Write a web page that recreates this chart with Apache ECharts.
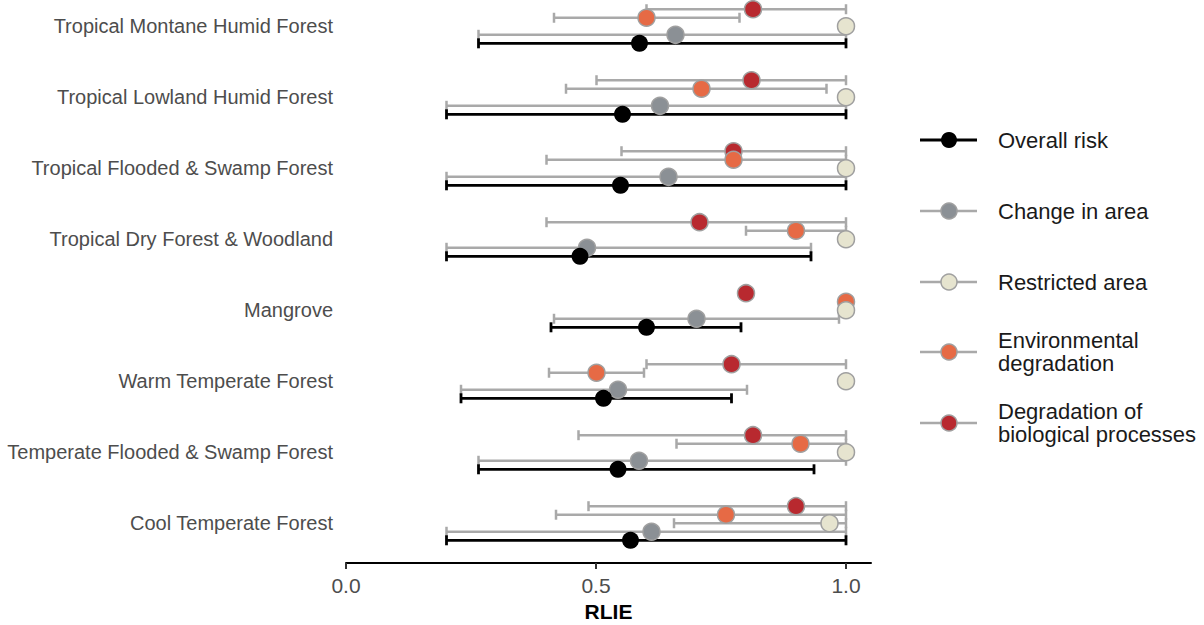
<!DOCTYPE html>
<html>
<head>
<meta charset="utf-8">
<script src="https://cdn.jsdelivr.net/npm/echarts@6/dist/echarts.min.js"></script>
<style>
html,body{margin:0;padding:0;background:#fff;}
#chart{width:1204px;height:625px;}
</style>
</head>
<body>
<div id="chart"></div>
<script>
// ---- Data ----
const categories = [
  "Tropical Montane Humid Forest",
  "Tropical Lowland Humid Forest",
  "Tropical Flooded & Swamp Forest",
  "Tropical Dry Forest & Woodland",
  "Mangrove",
  "Warm Temperate Forest",
  "Temperate Flooded & Swamp Forest",
  "Cool Temperate Forest"
];
const xTicks = [0, 0.5, 1.0];

const overall   = [0.587, 0.553, 0.549, 0.468, 0.601, 0.515, 0.544, 0.569];
const overallLo = [0.265, 0.201, 0.201, 0.201, 0.410, 0.230, 0.265, 0.201];
const overallHi = [1.000, 1.000, 1.000, 0.930, 0.790, 0.771, 0.936, 1.000];

const change    = [0.659, 0.628, 0.645, 0.482, 0.701, 0.544, 0.586, 0.611];
const changeLo  = [0.265, 0.201, 0.201, 0.201, 0.416, 0.230, 0.265, 0.201];
const changeHi  = [1.000, 1.000, 1.000, 0.930, 0.986, 0.802, 1.000, 1.000];

const restricted   = [1.000, 1.000, 1.000, 1.000, 1.000, 1.000, 1.000, 0.967];
const restrictedLo = [null, null, null, null, null, null, null, 0.656];
const restrictedHi = [null, null, null, null, null, null, null, 1.000];

const envDeg   = [0.601, 0.711, 0.775, 0.900, 1.000, 0.501, 0.909, 0.760];
const envDegLo = [0.416, 0.440, 0.401, 0.800, null, 0.406, 0.661, 0.420];
const envDegHi = [0.787, 0.961, 1.000, 1.000, null, 0.596, 1.000, 1.000];

const bioDeg   = [0.814, 0.811, 0.775, 0.707, 0.800, 0.771, 0.814, 0.900];
const bioDegLo = [0.601, 0.501, 0.551, 0.401, null, 0.601, 0.465, 0.485];
const bioDegHi = [1.000, 1.000, 1.000, 1.000, null, 1.000, 1.000, 1.000];

// ---- Series definitions (drawing order: back to front) ----
const seriesDefs = [
  {name: "Degradation of\nbiological processes", v: bioDeg, lo: bioDegLo, hi: bioDegHi, dodge: -0.24, fill: "#b8292f", bar: "#a9a9a9", bw: 2.5, border: true},
  {name: "Environmental\ndegradation", v: envDeg, lo: envDegLo, hi: envDegHi, dodge: -0.12, fill: "#e66a45", bar: "#a9a9a9", bw: 2.5, border: true},
  {name: "Restricted area", v: restricted, lo: restrictedLo, hi: restrictedHi, dodge: 0, fill: "#e6e4cf", bar: "#a9a9a9", bw: 2.5, border: true},
  {name: "Change in area", v: change, lo: changeLo, hi: changeHi, dodge: 0.12, fill: "#8b9095", bar: "#a9a9a9", bw: 2.5, border: true},
  {name: "Overall risk", v: overall, lo: overallLo, hi: overallHi, dodge: 0.24, fill: "#000000", bar: "#000000", bw: 2.8, border: false}
];
const legendOrder = [4, 3, 2, 1, 0];

const series = [];
// error bars first
seriesDefs.forEach((d, si) => {
  const data = [];
  d.v.forEach((_, i) => {
    if (d.lo[i] != null && d.hi[i] != null) data.push([d.lo[i], d.hi[i], i + d.dodge]);
  });
  series.push({
    type: 'custom',
    name: d.name + ' bars',
    z: 2 + si,
    silent: true,
    clip: false,
    encode: {x: [0, 1], y: 2},
    data: data,
    renderItem: function (params, api) {
      const p0 = api.coord([api.value(0), api.value(2)]);
      const p1 = api.coord([api.value(1), api.value(2)]);
      const cap = 5;
      const st = {stroke: d.bar, lineWidth: d.bw};
      return {
        type: 'group',
        children: [
          {type: 'line', shape: {x1: p0[0], y1: p0[1], x2: p1[0], y2: p1[1]}, style: st},
          {type: 'line', shape: {x1: p0[0], y1: p0[1] - cap, x2: p0[0], y2: p0[1] + cap}, style: st},
          {type: 'line', shape: {x1: p1[0], y1: p1[1] - cap, x2: p1[0], y2: p1[1] + cap}, style: st}
        ]
      };
    }
  });
});
// points
seriesDefs.forEach((d, si) => {
  series.push({
    type: 'scatter',
    name: d.name,
    z: 10 + si,
    symbol: 'circle',
    symbolSize: 17,
    silent: true,
    clip: false,
    itemStyle: d.border ? {color: d.fill, borderColor: '#a0a0a0', borderWidth: 1.5, opacity: 1}
                        : {color: d.fill, opacity: 1},
    data: d.v.map((val, i) => [val, i + d.dodge])
  });
});

// legend drawn with graphic elements
const legendY = [140, 211, 282, 352, 423];
const graphics = [];
legendOrder.forEach((si, k) => {
  const d = seriesDefs[si];
  const y = legendY[k];
  graphics.push({type: 'line', shape: {x1: 920, y1: y, x2: 977, y2: y},
    style: {stroke: d.bar === '#000000' ? '#000' : '#a9a9a9', lineWidth: d.bw}, z: 100});
  graphics.push({type: 'circle', shape: {cx: 949, cy: y, r: 8},
    style: d.border ? {fill: d.fill, stroke: '#a0a0a0', lineWidth: 1.5} : {fill: d.fill}, z: 101});
  graphics.push({type: 'text', x: 998, y: y, z: 102,
    style: {text: d.name, fill: '#1a1a1a', font: '22px "Liberation Sans", Arial, sans-serif',
      verticalAlign: 'middle', align: 'left', lineHeight: 23}});
});

const chart = echarts.init(document.getElementById('chart'), null, {renderer: 'svg'});
chart.setOption({
  backgroundColor: '#ffffff',
  animation: false,
  textStyle: {fontFamily: '"Liberation Sans", Arial, sans-serif'},
  grid: {left: 346, right: 333, top: 0, bottom: 62, containLabel: false, outerBoundsMode: 'none'},
  xAxis: {
    type: 'value',
    min: 0, max: 1.05,
    name: 'RLIE',
    nameLocation: 'middle',
    nameGap: 34,
    nameTextStyle: {color: '#000', fontWeight: 'bold', fontSize: 21, fontFamily: '"Liberation Sans", Arial, sans-serif'},
    axisLine: {show: true, onZero: false, lineStyle: {color: '#000', width: 2}},
    axisTick: {show: true, customValues: xTicks, length: 6, lineStyle: {color: '#333', width: 2}},
    axisLabel: {customValues: xTicks, formatter: v => Number(v).toFixed(1), color: '#4d4d4d', fontSize: 21, margin: 12},
    splitLine: {show: false}
  },
  yAxis: {
    type: 'value',
    inverse: true,
    min: -0.37, max: 7.56,
    axisLine: {show: false},
    axisTick: {show: false},
    splitLine: {show: false},
    axisLabel: {
      customValues: categories.map((_, i) => i),
      formatter: v => categories[Math.round(v)],
      color: '#4d4d4d', fontSize: 20, margin: 13
    }
  },
  series: series,
  graphic: graphics
});
</script>
</body>
</html>
